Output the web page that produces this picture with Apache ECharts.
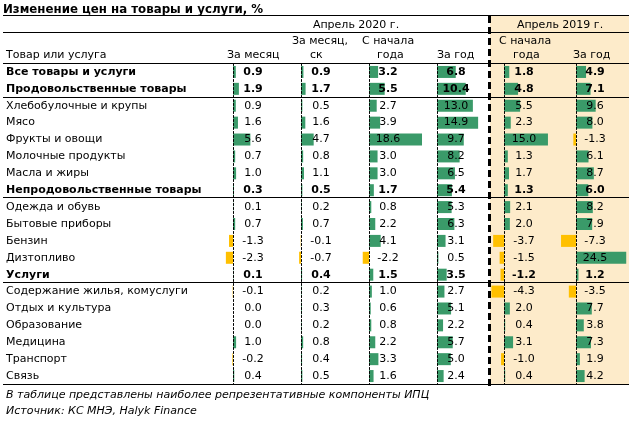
<!DOCTYPE html>
<html><head><meta charset="utf-8">
<script src="https://cdn.jsdelivr.net/npm/echarts@6/dist/echarts.min.js"></script>
<style>html,body{margin:0;padding:0;background:#fff}#c{width:632px;height:423px}</style>
</head><body><div id="c"></div><script>
const categories = [
  'Все товары и услуги','Продовольственные товары','Хлебобулочные и крупы','Мясо','Фрукты и овощи',
  'Молочные продукты','Масла и жиры','Непродовольственные товары','Одежда и обувь','Бытовые приборы',
  'Бензин','Дизтопливо','Услуги','Содержание жилья, комуслуги','Отдых и культура','Образование',
  'Медицина','Транспорт','Связь'
];
const boldRows = [0, 1, 7, 12];
const monthApr2020   = [0.9, 1.9, 0.9, 1.6, 5.6, 0.7, 1.0, 0.3, 0.1, 0.7, -1.3, -2.3, 0.1, -0.1, 0.0, 0.0, 1.0, -0.2, 0.4];
const monthSkApr2020 = [0.9, 1.7, 0.5, 1.6, 4.7, 0.8, 1.1, 0.5, 0.2, 0.7, -0.1, -0.7, 0.4, 0.2, 0.3, 0.2, 0.8, 0.4, 0.5];
const ytdApr2020     = [3.2, 5.5, 2.7, 3.9, 18.6, 3.0, 3.0, 1.7, 0.8, 2.2, 4.1, -2.2, 1.5, 1.0, 0.6, 0.8, 2.2, 3.3, 1.6];
const yoyApr2020     = [6.8, 10.4, 13.0, 14.9, 9.7, 8.2, 6.5, 5.4, 5.3, 6.3, 3.1, 0.5, 3.5, 2.7, 5.1, 2.2, 5.7, 5.0, 2.4];
const ytdApr2019     = [1.8, 4.8, 5.5, 2.3, 15.0, 1.3, 1.7, 1.3, 2.1, 2.0, -3.7, -1.5, -1.2, -4.3, 2.0, 0.4, 3.1, -1.0, 0.4];
const yoyApr2019     = [4.9, 7.1, 9.6, 8.0, -1.3, 6.1, 8.7, 6.0, 8.2, 7.9, -7.3, 24.5, 1.2, -3.5, 7.7, 3.8, 7.3, 1.9, 4.2];

const titleText = 'Изменение цен на товары и услуги, %';
const periodHeaders = ['Апрель 2020 г.', 'Апрель 2019 г.'];
const colHeadersTop = ['За месяц,', 'С начала', 'С начала'];
const colHeadersBottom = ['Товар или услуга', 'За месяц', 'ск', 'года', 'За год', 'года', 'За год'];
const footnotes = ['В таблице представлены наиболее репрезентативные компоненты ИПЦ', 'Источник: КС МНЭ, Halyk Finance'];

const FONT = 'DejaVu Sans';
const GREEN = '#3a9a69', GOLD = '#ffc000';
const NEG = 18, POS = 54;
const cols = [
  {data: monthApr2020,   x0: 233, k: 3.1,  lx: 253},
  {data: monthSkApr2020, x0: 301, k: 2.7,  lx: 321},
  {data: ytdApr2020,     x0: 369, k: 2.85, lx: 388},
  {data: yoyApr2020,     x0: 437, k: 2.76, lx: 456},
  {data: ytdApr2019,     x0: 504, k: 2.93, lx: 524},
  {data: yoyApr2019,     x0: 576, k: 2.05, lx: 595}
];
const TOP = 63.5, BOTTOM = 384.5;
const rich = {
  b: {fontFamily: FONT, fontSize: 11, fontWeight: 'bold', color: '#000'},
  n: {fontFamily: FONT, fontSize: 11, color: '#000'}
};
const wrap = (s, i) => boldRows.indexOf(i) >= 0 ? '{b|' + s + '}' : '{n|' + s + '}';

const grid = [], xAxis = [], yAxis = [], series = [];
cols.forEach((c, i) => {
  grid.push({left: c.x0 - NEG, width: NEG + POS, top: TOP, height: BOTTOM - TOP,
             containLabel: false, outerBoundsMode: 'none'});
  xAxis.push({type: 'value', gridIndex: i, min: -NEG / c.k, max: POS / c.k, show: false});
  yAxis.push({
    type: 'category', gridIndex: i, data: categories, inverse: true, position: 'left', z: 10,
    axisLine: {show: true, onZero: true, lineStyle: {color: '#000', width: 1, type: [2, 2]}},
    axisTick: {show: false}, splitLine: {show: false},
    axisLabel: i === 0 ? {
      show: true, interval: 0, align: 'left', margin: (c.x0 - NEG) - 6, rich: rich, hideOverlap: false,
      formatter: (v, idx) => wrap(v, idx)
    } : {show: false}
  });
  yAxis.push({
    type: 'category', gridIndex: i, data: categories, inverse: true, position: 'right', z: 10,
    axisLine: {show: false, onZero: false}, axisTick: {show: false}, splitLine: {show: false},
    axisLabel: {
      show: true, interval: 0, align: 'center', margin: c.lx - (c.x0 + POS), rich: rich, hideOverlap: false,
      formatter: (v, idx) => wrap(c.data[idx].toFixed(1), idx)
    }
  });
  series.push({
    type: 'bar', xAxisIndex: i, yAxisIndex: 2 * i, data: c.data, barWidth: 12, silent: true, z: 2,
    itemStyle: {color: p => p.value < 0 ? GOLD : GREEN}, animation: false
  });
});

const txt = (text, x, y, opts) => ({
  type: 'text', x: x, y: y, z: 50,
  style: Object.assign({text: text, fill: '#000', font: '11px "' + FONT + '"', textVerticalAlign: 'middle'}, opts || {})
});
const hline = (y) => ({type: 'line', z: 60, shape: {x1: 3, y1: y, x2: 629, y2: y}, style: {stroke: '#000', lineWidth: 1}});

const graphic = [
  {type: 'rect', z: -10, shape: {x: 490, y: 16, width: 139, height: 368.5}, style: {fill: '#fdebca'}},
  hline(15.5), hline(32.5), hline(63.5), hline(97.5), hline(197.5), hline(282.5), hline(384.5),
  {type: 'line', z: 70, shape: {x1: 489.5, y1: 16, x2: 489.5, y2: 388}, style: {stroke: '#000', lineWidth: 3, lineDash: [7, 4]}},
  txt(titleText, 3, 9.5, {font: 'bold 11.8px "' + FONT + '"'}),
  txt(periodHeaders[0], 356, 25, {textAlign: 'center'}),
  txt(periodHeaders[1], 560, 25, {textAlign: 'center'}),
  txt(colHeadersTop[0], 292, 41.5),
  txt(colHeadersTop[1], 362, 41.5),
  txt(colHeadersTop[2], 499, 41.5),
  txt(colHeadersBottom[0], 6, 55.5),
  txt(colHeadersBottom[1], 227, 55.5),
  txt(colHeadersBottom[2], 310, 55.5),
  txt(colHeadersBottom[3], 377, 55.5),
  txt(colHeadersBottom[4], 437, 55.5),
  txt(colHeadersBottom[5], 513, 55.5),
  txt(colHeadersBottom[6], 573, 55.5),
  txt(footnotes[0], 6, 395.5, {font: 'italic 11px "' + FONT + '"'}),
  txt(footnotes[1], 6, 411.5, {font: 'italic 11px "' + FONT + '"'})
];

const chart = echarts.init(document.getElementById('c'), null, {renderer: 'canvas'});
chart.setOption({animation: false, backgroundColor: '#fff', grid, xAxis, yAxis, series, graphic});
</script></body></html>
